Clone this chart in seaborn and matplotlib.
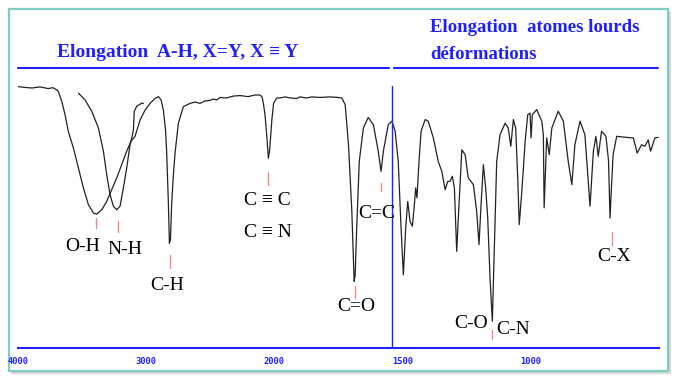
import numpy as np
import matplotlib
matplotlib.use('Agg')
import matplotlib.pyplot as plt
import seaborn as sns
from matplotlib.patches import Rectangle
from matplotlib.lines import Line2D

# Main IR spectrum: wavenumber (cm-1) and transmittance (%)
wavenumber = [3998, 3945, 3891, 3828, 3766, 3727, 3698, 3686, 3659, 3633, 3608,
              3568, 3529, 3490, 3451, 3412, 3386, 3347, 3308, 3269, 3230, 3191,
              3152, 3118, 3087, 3048, 3009, 2970, 2931, 2905, 2884, 2866, 2849,
              2840, 2827, 2819, 2811, 2801, 2788, 2775, 2749, 2710, 2658, 2619,
              2580, 2541, 2502, 2478, 2449, 2424, 2377, 2320, 2268, 2205, 2151,
              2112, 2096, 2086, 2073, 2059, 2047, 2037, 2020, 2006, 1991, 1978,
              1958, 1939, 1915, 1900, 1876, 1853, 1822, 1783, 1752, 1737, 1724,
              1711, 1698, 1689, 1685, 1679, 1669, 1653, 1634, 1614, 1595, 1584,
              1575, 1556, 1542, 1529, 1517, 1506, 1497, 1488, 1480, 1471, 1462,
              1454, 1449, 1444, 1436, 1428, 1412, 1400, 1380, 1361, 1347, 1334,
              1324, 1315, 1306, 1298, 1289, 1280, 1269, 1256, 1244, 1224, 1211,
              1202, 1194, 1185, 1176, 1168, 1159, 1150, 1142, 1133, 1120, 1100,
              1088, 1078, 1068, 1059, 1051, 1045, 1035, 1022, 1012, 1003, 999,
              994, 977, 957, 951, 948, 944, 938, 928, 918, 893, 873, 854, 840,
              828, 808, 789, 769, 756, 746, 737, 724, 707, 697, 691, 686, 679,
              665, 626, 600, 585, 568, 555, 542, 533, 516, 503]
transmittance = [96.8, 96.5, 96.3, 96.7, 96.1, 96.4, 95.6, 95.1, 91.4, 86.4, 80.3,
                 74.1, 66.7, 59.3, 53.1, 50.0, 49.6, 51.2, 54.3, 58.6, 63.0, 67.9,
                 72.9, 76.6, 78.4, 84.4, 88.1, 90.6, 92.4, 93.1, 91.9, 88.1, 80.7,
                 72.2, 53.7, 38.8, 40.0, 53.7, 64.1, 72.2, 83.3, 89.4, 90.6, 91.1,
                 90.6, 91.5, 91.7, 92.2, 91.9, 92.8, 92.6, 93.3, 93.5, 93.1, 93.7,
                 93.7, 93.0, 90.6, 86.3, 78.3, 70.3, 73.3, 84.4, 90.7, 92.6, 92.6,
                 93.0, 92.6, 92.4, 93.0, 92.6, 93.0, 92.8, 93.0, 92.8, 92.6, 90.1,
                 75.3, 50.7, 24.7, 27.0, 44.4, 69.1, 81.5, 85.4, 82.7, 72.9, 65.4,
                 72.9, 82.7, 84.0, 80.3, 69.1, 44.4, 27.1, 44.4, 54.3, 46.9, 45.1,
                 53.1, 59.3, 55.6, 69.1, 80.3, 84.6, 84.0, 77.8, 69.1, 65.4, 58.6,
                 61.7, 61.7, 63.6, 59.3, 35.8, 53.1, 73.4, 71.6, 63.0, 60.5, 50.6,
                 38.3, 53.1, 67.9, 59.3, 48.1, 25.9, 9.9, 38.3, 69.1, 79.0, 83.3,
                 81.5, 74.7, 84.6, 81.5, 63.0, 45.7, 58.0, 76.6, 86.4, 87.0, 77.8,
                 86.4, 88.3, 84.0, 78.9, 51.9, 62.2, 77.8, 71.6, 81.5, 87.7, 84.0,
                 69.1, 60.5, 75.3, 84.0, 79.0, 52.5, 72.9, 78.4, 71.0, 80.3, 78.4,
                 69.6, 48.1, 58.5, 71.6, 78.4, 78.0, 77.8, 72.2, 75.3, 74.7, 77.1,
                 72.9, 77.8, 78.0]

# Second trace: amine N-H band
nh_wavenumber = [3529, 3477, 3425, 3373, 3334, 3308, 3282, 3256, 3230, 3204,
                 3178, 3152, 3126, 3111, 3100, 3093, 3074, 3035, 3022]
nh_transmittance = [94.4, 91.9, 87.7, 81.5, 72.9, 64.2, 56.8, 52.5, 51.2, 52.5,
                    59.3, 66.7, 75.3, 78.1, 80.7, 87.7, 89.5, 90.7, 90.6]

major_ticks = [4000, 3000, 2000, 1500, 1000, 500]
major_labels = ['4000', '3000', '2000', '1500', '1000', '']
minor_ticks = [3800, 3600, 3400, 3200, 2800, 2600, 2400, 2200,
               1900, 1800, 1700, 1600, 1400, 1300, 1200, 1100,
               900, 800, 700, 600]

# band names with text centre (wavenumber, T)
band_names = ['O-H', 'N-H', 'C-H', 'C ≡ C', 'C ≡ N', 'C=C', 'C=O', 'C-O', 'C-N', 'C-X']
band_text_x = [3497, 3169, 2835, 2053, 2053, 1601, 1681, 1234, 1067, 674]
band_text_y = [37.5, 36.3, 23.3, 54.6, 42.9, 50.0, 15.2, 9.1, 6.9, 33.8]
# small red markers under the bands (wavenumber, top T, bottom T)
marker_x = [3394, 3222, 2814, 2047, 1584, 1685, 1152, 684]
marker_top = [48.0, 46.9, 34.3, 65.3, 61.1, 22.8, 6.6, 43.0]
marker_bottom = [44.3, 42.9, 29.5, 60.4, 58.0, 18.4, 3.2, 38.0]

split_wavenumber = 1542

BLUE = '#1f1fff'
W, H = 678, 382


# wavenumber axis: scale doubled below 2000 cm-1
def fwd(w):
    w = np.asarray(w, dtype=float)
    return np.where(w >= 2000, (w - 2000) / 1000, (w - 2000) / 500)


def inv(u):
    u = np.asarray(u, dtype=float)
    return np.where(u >= 0, 2000 + u * 1000, 2000 + u * 500)


def fx(px):
    return px / W


def fy(py):
    return 1 - py / H


sns.set_style('white')
plt.rcParams['font.family'] = ['Liberation Serif', 'DejaVu Serif']

fig = plt.figure(figsize=(W / 100, H / 100), dpi=100)
ax = fig.add_axes([fx(18), fy(348), (659 - 18) / W, (348 - 78) / H])
ax.set_facecolor('none')

sns.lineplot(x=wavenumber, y=transmittance, ax=ax, sort=False, estimator=None,
             color='#222222', lw=0.9)
sns.lineplot(x=nh_wavenumber, y=nh_transmittance, ax=ax, sort=False, estimator=None,
             color='#222222', lw=0.9)

ax.set_xscale('function', functions=(fwd, inv))
ax.set_xlim(4000, 500)
ax.set_ylim(0, 100)

ax.set_xticks(major_ticks)
ax.set_xticklabels(major_labels, family='DejaVu Sans Mono', fontweight='bold')
ax.set_xticks(minor_ticks, minor=True)
ax.set_yticks([])
ax.tick_params(axis='x', which='major', direction='inout', length=9.8, width=1.2,
               colors=BLUE, pad=1.5, labelsize=6.3)
ax.tick_params(axis='x', which='minor', direction='in', length=4.6, width=1.1,
               color=BLUE)
for side in ['left', 'top', 'right']:
    ax.spines[side].set_visible(False)
ax.spines['bottom'].set_color(BLUE)
ax.spines['bottom'].set_linewidth(1.5)

# separation line between the two regions
ax.plot([split_wavenumber, split_wavenumber], [0, 97.1], color=BLUE, lw=1)

for name, x, y in zip(band_names, band_text_x, band_text_y):
    ax.text(x, y, name, ha='center', va='center', fontsize=14, color='black')
for x, y0, y1 in zip(marker_x, marker_top, marker_bottom):
    ax.plot([x, x], [y0, y1], color='#f08a8a', lw=1)

# titles and underlines
fig.text(fx(178), fy(56.7), 'Elongation  A-H, X=Y, X ≡ Y', ha='center',
         va='baseline', fontsize=14, fontweight='bold', color=BLUE)
fig.text(fx(430), fy(31.7), 'Elongation  atomes lourds', ha='left',
         va='baseline', fontsize=13.5, fontweight='bold', color=BLUE)
fig.text(fx(430), fy(59.3), 'déformations', ha='left',
         va='baseline', fontsize=13.5, fontweight='bold', color=BLUE)
fig.add_artist(Line2D([fx(18), fx(389)], [fy(67.7), fy(67.7)], color=BLUE, lw=1.5))
fig.add_artist(Line2D([fx(394), fx(658)], [fy(67.7), fy(67.7)], color=BLUE, lw=1.5))

# frame with a light shadow on the right and bottom, kept behind the plot
fig.add_artist(Line2D([fx(12), fx(670), fx(670)], [fy(373), fy(373), fy(12)],
                      color='#d8d8d8', lw=1.5, zorder=-2))
fig.add_artist(Rectangle((fx(9), fy(371)), 659 / W, 362 / H,
                         transform=fig.transFigure, fill=False,
                         edgecolor='#80cbc4', lw=1.6, zorder=-1))

fig.savefig('out.png', dpi=100)
